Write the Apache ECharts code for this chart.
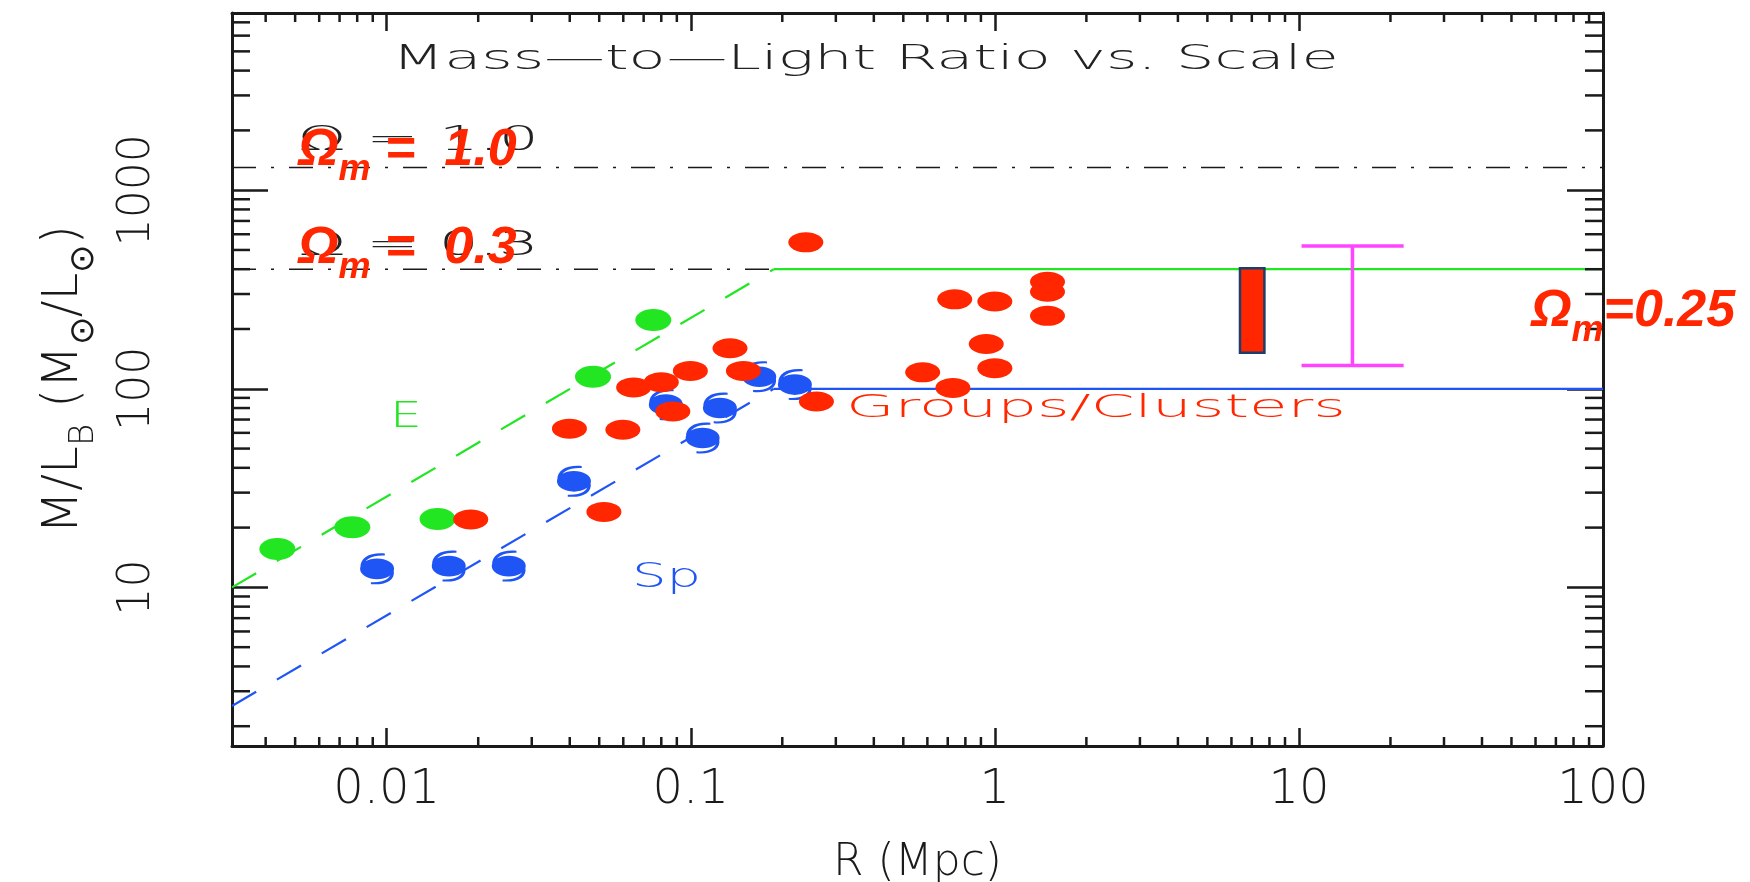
<!DOCTYPE html>
<html>
<head>
<meta charset="utf-8">
<title>Mass-to-Light Ratio vs. Scale</title>
<script src="https://cdn.jsdelivr.net/npm/echarts@6/dist/echarts.min.js"></script>
<style>
  html, body { margin: 0; padding: 0; background: #ffffff; }
  #chart { width: 1750px; height: 882px; }
</style>
</head>
<body>
<div id="chart"></div>
<script>
// ---- axis ranges: R in Mpc, M/L_B in solar units ----
const R_MIN = 0.0031, R_MAX = 100;
const ML_MIN = 1.59, ML_MAX = 7800;

const xTickLabels = ['0.01', '0.1', '1', '10', '100'];
const yTickLabels = ['10', '100', '1000'];

// ---- ellipticals (E) ----
const ellR  = [0.00437, 0.00771, 0.0147, 0.0477, 0.0753];
const ellML = [15.6, 20.1, 22.1, 115, 222];

// ---- spirals (Sp) ----
const spR  = [0.0093, 0.016, 0.0252, 0.0413, 0.0828, 0.1094, 0.1247, 0.168, 0.22];
const spML = [12.4, 12.8, 12.8, 34.2, 83.2, 56.5, 80, 115, 105];

// ---- groups / clusters ----
const grpR  = [0.0189, 0.0399, 0.0518, 0.0598, 0.0649, 0.080, 0.0873, 0.0997, 0.1346, 0.149,
               0.239, 0.259, 0.579, 0.728, 0.738, 0.937, 1.0, 1.0, 1.49, 1.49, 1.49];
const grpML = [22.0, 63, 24.0, 62.2, 101.6, 108, 76.9, 123, 160, 123,
               546, 86.3, 121, 101, 282, 168, 127, 275, 346, 308, 233];

// ---- trend lines and plateaus ----
const breakR = 0.1875;
const eTrendR = [R_MIN, breakR],  eTrendML = [10, 400];
const spTrendR = [R_MIN, breakR], spTrendML = [2.53, 100];
const plateauR = [breakR, R_MAX];
const ePlateauML = 400, spPlateauML = 100;

// ---- critical M/L for Omega_m = 1.0 and 0.3 ----
const omega1ML = 1300, omega03ML = 400;

// ---- large-scale estimate (box) and error bar ----
const boxR = [6.4, 7.7], boxML = [152, 405];
const errR = 15.0, errCapR = [10.2, 22.1], errML = [131, 524];

// ---- minor tick values (2..9 per decade) ----
const steps = [2, 3, 4, 5, 6, 7, 8, 9];
const xMinorTicks = [], yMinorTicks = [];
for (let e = -3; e <= 1; e++) steps.forEach(k => {
  const v = +(k * Math.pow(10, e)).toPrecision(3);
  if (v > R_MIN && v < R_MAX) xMinorTicks.push(v);
});
for (let e = 0; e <= 3; e++) steps.forEach(k => {
  const v = +(k * Math.pow(10, e)).toPrecision(3);
  if (v > ML_MIN && v < ML_MAX) yMinorTicks.push(v);
});

// ---- styles ----
const INK = '#1a1a1a';
const THIN = '"DejaVu Sans", sans-serif';
const BOLD = '"Liberation Sans", Arial, sans-serif';
const RED = '#ff2600';
const GREEN = '#22e622';
const BLUE = '#1f55f5';
const MAGENTA = '#ff44ff';

const zip = (a, b) => a.map((v, i) => [v, b[i]]);
const sameDecade = (v, s) => Math.abs(Math.log10(v) - Math.log10(Number(s))) < 1e-6;
const fmt = labels => v => { const s = labels.find(l => sameDecade(v, l)); return s || ''; };

// spiral-galaxy glyph: filled disc with two thin trailing arms
const SPIRAL = 'path://M4,50 A44,31 0 1,1 92,50 A44,31 0 1,1 4,50 Z' +
  ' M5,46 C4,16 30,0 68,4 L68,10 C36,8 12,22 11,46 Z' +
  ' M91,54 C96,84 70,100 32,96 L32,90 C64,92 86,80 85,55 Z';
const ELLIPSE = 'path://M0,50 A50,50 0 1,1 100,50 A50,50 0 1,1 0,50 Z';

const frameAxisX = (pos, extra) => Object.assign({
  type: 'log', logBase: 10, min: R_MIN, max: R_MAX, position: pos,
  axisLine: { show: true, onZero: false, lineStyle: { color: INK, width: 3 } },
  axisTick: { show: true, inside: true, length: 18, lineStyle: { color: INK, width: 2.5 } },
  axisLabel: { show: false },
  splitLine: { show: false }, minorTick: { show: false }
}, extra || {});
const frameAxisY = (pos, extra) => Object.assign({
  type: 'log', logBase: 10, min: ML_MIN, max: ML_MAX, position: pos,
  axisLine: { show: true, onZero: false, lineStyle: { color: INK, width: 3 } },
  axisTick: { show: true, inside: true, length: 36, lineStyle: { color: INK, width: 2.5 } },
  axisLabel: { show: false },
  splitLine: { show: false }, minorTick: { show: false }
}, extra || {});

const tickLine = (x1, y1, x2, y2) => ({
  type: 'line', shape: { x1, y1, x2, y2 },
  style: { stroke: INK, lineWidth: 2.5 }
});

const idlText = (text, x, y, size, color, sx) => ({
  type: 'text', x, y, scaleX: sx, z: 100, silent: true,
  style: { text, fill: color, fontSize: size, fontFamily: THIN, fontWeight: 200,
           align: 'left', verticalAlign: 'middle' }
});
const omegaLabel = (tail, x, y) => ({
  type: 'text', x, y, z: 120, silent: true,
  style: {
    text: '{o|Ω}{m|m}{o|' + tail + '}', align: 'left', verticalAlign: 'top',
    rich: {
      o: { fill: RED, fontSize: 52, fontFamily: BOLD, fontWeight: 'bold', fontStyle: 'italic',
           lineHeight: 52, verticalAlign: 'top' },
      m: { fill: RED, fontSize: 36, fontFamily: BOLD, fontWeight: 'bold', fontStyle: 'italic',
           lineHeight: 36, padding: [27, 0, 0, 0], verticalAlign: 'top' }
    }
  }
});

const chart = echarts.init(document.getElementById('chart'));
chart.setOption({
  animation: false,
  backgroundColor: '#ffffff',
  grid: { left: 232, right: 147, top: 13, bottom: 136, containLabel: false, outerBoundsMode: 'none' },
  xAxis: [
    frameAxisX('bottom', {
      axisLabel: { show: true, formatter: fmt(xTickLabels), margin: 21, fontSize: 48,
                   fontFamily: THIN, fontWeight: 200, color: INK },
      name: 'R (Mpc)', nameLocation: 'middle', nameGap: 96,
      nameTextStyle: { fontSize: 44, fontFamily: THIN, fontWeight: 200, color: INK }
    }),
    frameAxisX('top')
  ],
  yAxis: [
    frameAxisY('left', {
      axisLabel: { show: true, formatter: fmt(yTickLabels), rotate: 90, margin: 72, fontSize: 44,
                   fontFamily: THIN, fontWeight: 200, color: INK },
      name: '{t|M/L}{s|B}{t| (M}{s|⊙}{t|/L}{s|⊙}{t|)}',
      nameLocation: 'middle', nameRotate: 90, nameGap: 143,
      nameTextStyle: {
        rich: {
          t: { fontSize: 50, fontFamily: THIN, fontWeight: 200, color: INK, lineHeight: 50, verticalAlign: 'top' },
          s: { fontSize: 34, fontFamily: THIN, fontWeight: 200, color: INK, lineHeight: 34,
               padding: [28, 0, 0, 0], verticalAlign: 'top' }
        }
      }
    }),
    frameAxisY('right')
  ],
  graphic: { elements: [
    idlText('Mass—to—Light Ratio vs. Scale', 392, 60, 34, '#222222', 1.78),
    idlText('Ω = 1.0', 298, 141, 34, '#222222', 1.85),
    idlText('Ω = 0.3', 298, 246, 34, '#222222', 1.85),
    idlText('E', 390, 418, 36, GREEN, 1.4),
    idlText('Sp', 632, 578, 34, BLUE, 1.6),
    idlText('Groups/Clusters', 846, 409, 32, RED, 1.96),
    omegaLabel(' =  1.0', 298, 125),
    omegaLabel(' =  0.3', 298, 223),
    omegaLabel('=0.25', 1531, 286)
  ] },
  series: [
    { // minor ticks along bottom and top
      type: 'custom', silent: true, clip: false, xAxisIndex: 0, yAxisIndex: 0, z: 5,
      data: xMinorTicks.map(v => [v, ML_MIN]),
      renderItem: (p, api) => {
        const b = api.coord([api.value(0), ML_MIN]);
        const t = api.coord([api.value(0), ML_MAX]);
        return { type: 'group', children: [
          tickLine(b[0], b[1], b[0], b[1] - 9), tickLine(t[0], t[1], t[0], t[1] + 9)
        ] };
      }
    },
    { // minor ticks along left and right
      type: 'custom', silent: true, clip: false, xAxisIndex: 0, yAxisIndex: 0, z: 5,
      data: yMinorTicks.map(v => [R_MIN, v]),
      renderItem: (p, api) => {
        const l = api.coord([R_MIN, api.value(1)]);
        const r = api.coord([R_MAX, api.value(1)]);
        return { type: 'group', children: [
          tickLine(l[0], l[1], l[0] + 18, l[1]), tickLine(r[0], r[1], r[0] - 18, r[1])
        ] };
      }
    },
    { // Omega_m = 1.0
      type: 'line', silent: true, showSymbol: false, z: 2,
      data: [[R_MIN, omega1ML], [R_MAX, omega1ML]],
      lineStyle: { color: INK, width: 1.6, type: [24, 15, 3, 15] }
    },
    { // Omega_m = 0.3
      type: 'line', silent: true, showSymbol: false, z: 2,
      data: [[R_MIN, omega03ML], [breakR, omega03ML]],
      lineStyle: { color: INK, width: 1.6, type: [24, 15, 3, 15] }
    },
    { // elliptical trend
      type: 'line', silent: true, showSymbol: false, z: 2,
      data: zip(eTrendR, eTrendML),
      lineStyle: { color: GREEN, width: 2.2, type: [28, 24] }
    },
    {
      type: 'line', silent: true, showSymbol: false, z: 2,
      data: plateauR.map(r => [r, ePlateauML]),
      lineStyle: { color: GREEN, width: 2.2 }
    },
    { // spiral trend
      type: 'line', silent: true, showSymbol: false, z: 2,
      data: zip(spTrendR, spTrendML),
      lineStyle: { color: BLUE, width: 2.2, type: [28, 24] }
    },
    {
      type: 'line', silent: true, showSymbol: false, z: 2,
      data: plateauR.map(r => [r, spPlateauML]),
      lineStyle: { color: BLUE, width: 2.2 }
    },
    {
      name: 'E', type: 'scatter', z: 3,
      data: zip(ellR, ellML),
      symbol: ELLIPSE, symbolSize: [36, 22],
      itemStyle: { color: GREEN, opacity: 1 }
    },
    {
      name: 'Sp', type: 'scatter', z: 3,
      data: zip(spR, spML),
      symbol: SPIRAL, symbolSize: [34, 31],
      itemStyle: { color: BLUE, opacity: 1 }
    },
    {
      name: 'Groups/Clusters', type: 'scatter', z: 4,
      data: zip(grpR, grpML),
      symbol: ELLIPSE, symbolSize: [35, 20],
      itemStyle: { color: RED, opacity: 1 }
    },
    { // large-scale estimate box
      type: 'custom', silent: true, z: 4,
      data: [[boxR[0], boxML[0], boxR[1], boxML[1]]],
      encode: { x: [0, 2], y: [1, 3] },
      renderItem: (p, api) => {
        const a = api.coord([api.value(0), api.value(3)]);
        const b = api.coord([api.value(2), api.value(1)]);
        return { type: 'rect',
          shape: { x: a[0], y: a[1], width: b[0] - a[0], height: b[1] - a[1] },
          style: { fill: RED, stroke: '#1d3d6b', lineWidth: 2.5 } };
      }
    },
    { // error bar
      type: 'custom', silent: true, z: 4,
      data: [[errR, errML[0], errML[1], errCapR[0], errCapR[1]]],
      encode: { x: [0, 3, 4], y: [1, 2] },
      renderItem: (p, api) => {
        const st = { stroke: MAGENTA, lineWidth: 3.5 };
        const lo = api.coord([api.value(0), api.value(1)]);
        const hi = api.coord([api.value(0), api.value(2)]);
        const loL = api.coord([api.value(3), api.value(1)]), loR = api.coord([api.value(4), api.value(1)]);
        const hiL = api.coord([api.value(3), api.value(2)]), hiR = api.coord([api.value(4), api.value(2)]);
        return { type: 'group', children: [
          { type: 'line', shape: { x1: lo[0], y1: lo[1], x2: hi[0], y2: hi[1] }, style: st },
          { type: 'line', shape: { x1: loL[0], y1: loL[1], x2: loR[0], y2: loR[1] }, style: st },
          { type: 'line', shape: { x1: hiL[0], y1: hiL[1], x2: hiR[0], y2: hiR[1] }, style: st }
        ] };
      }
    }
  ]
});
</script>
</body>
</html>
